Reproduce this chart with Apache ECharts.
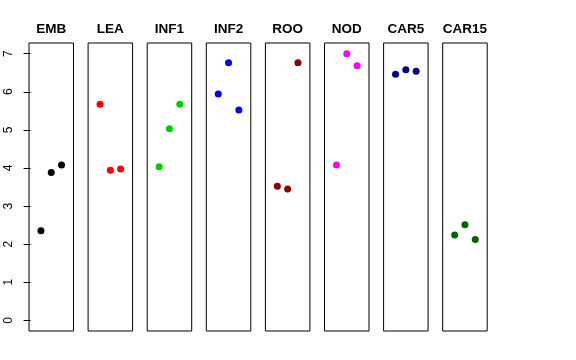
<!DOCTYPE html>
<html><head><meta charset="utf-8">
<script src="https://cdn.jsdelivr.net/npm/echarts@6/dist/echarts.min.js"></script>
<style>html,body{margin:0;padding:0;background:#fff}#c{width:576px;height:360px}</style>
</head><body><div id="c"></div>
<script>
const categories = ['EMB','LEA','INF1','INF2','ROO','NOD','CAR5','CAR15'];
const replicates = [1, 2, 3];
const EMB   = [2.35, 3.88, 4.08];
const LEA   = [5.67, 3.94, 3.97];
const INF1  = [4.03, 5.03, 5.67];
const INF2  = [5.94, 6.76, 5.52];
const ROO   = [3.52, 3.45, 6.76];
const NOD   = [4.08, 7.00, 6.68];
const CAR5  = [6.46, 6.58, 6.54];
const CAR15 = [2.24, 2.51, 2.12];
const yTicks = [0, 1, 2, 3, 4, 5, 6, 7];
const seriesValues = [EMB, LEA, INF1, INF2, ROO, NOD, CAR5, CAR15];
const colors = ['#000000','#FF0000','#00CD00','#0000FF','#8B0000','#FF00FF','#00008B','#006400'];

const font = 'Liberation Sans, Arial, Helvetica, sans-serif';
const panelLeft0 = 29, panelStep = 59.1, panelW = 44.5, panelTop = 43, panelH = 288;

const grids = [], xAxes = [], yAxes = [], series = [], graphics = [];
categories.forEach((cat, i) => {
  const left = panelLeft0 + i * panelStep;
  grids.push({left: left, top: panelTop, width: panelW, height: panelH,
    show: true, borderColor: '#000', borderWidth: 1, backgroundColor: 'transparent'});
  xAxes.push({gridIndex: i, type: 'value', min: -0.16, max: 4.16,
    axisLine: {show: false}, axisTick: {show: false}, axisLabel: {show: false}, splitLine: {show: false}});
  yAxes.push({gridIndex: i, type: 'value', min: -0.28, max: 7.28,
    axisLine: {show: false},
    axisTick: {show: i === 0, length: 7, lineStyle: {color: '#000'}, customValues: yTicks},
    axisLabel: {show: i === 0, rotate: 90, margin: 14, fontSize: 12, color: '#000', fontFamily: font, customValues: yTicks},
    splitLine: {show: false}});
  series.push({type: 'scatter', xAxisIndex: i, yAxisIndex: i, symbol: 'circle', symbolSize: 7,
    itemStyle: {color: colors[i], opacity: 1}, silent: true,
    data: replicates.map((r, j) => [r, seriesValues[i][j]])});
  graphics.push({type: 'text', x: left + panelW / 2, y: 29.5, silent: true,
    style: {text: cat, align: 'center', verticalAlign: 'middle', fill: '#000',
      font: 'bold 13.5px ' + font}});
});

const chart = echarts.init(document.getElementById('c'), null, {renderer: 'canvas'});
chart.setOption({animation: false, grid: grids, xAxis: xAxes, yAxis: yAxes, series: series, graphic: graphics});
</script></body></html>
